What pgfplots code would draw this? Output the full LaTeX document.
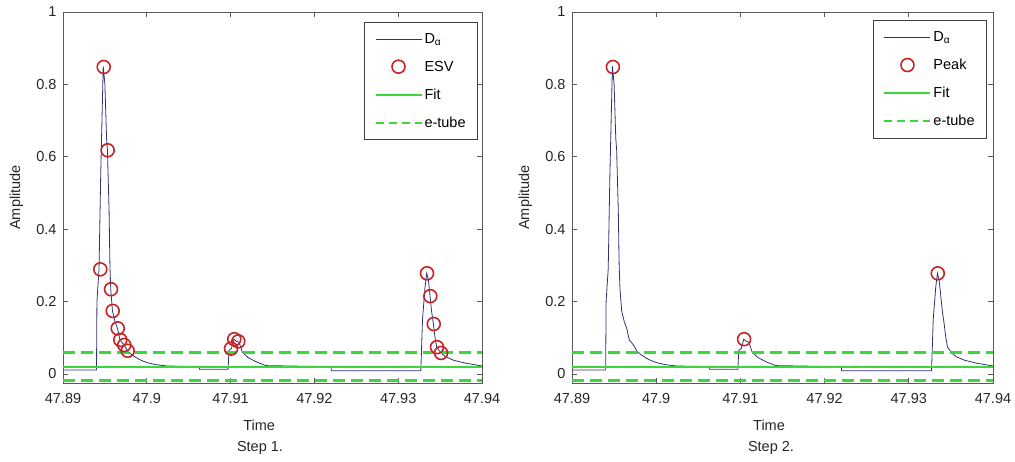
\documentclass[border=0pt]{standalone}
\usepackage{fontspec}
\setmainfont{Liberation Sans}
\usepackage{pgfplots}
\usepackage{pgfplotstable}
\pgfplotsset{compat=1.18}
\definecolor{dcol}{RGB}{50,50,115}
\definecolor{rcol}{RGB}{200,35,35}
\definecolor{gcol}{RGB}{60,215,60}

\pgfplotstableread{
t v
47.8900 0.011
47.8940 0.011
47.89405 0.20
47.8943 0.29
47.8945 0.55
47.8947 0.75
47.8948 0.85
47.8950 0.80
47.8952 0.65
47.8953 0.62
47.8955 0.45
47.8956 0.30
47.8957 0.234
47.8959 0.174
47.8962 0.145
47.8965 0.126
47.8968 0.094
47.8973 0.080
47.8977 0.064
47.8981 0.055
47.8986 0.047
47.8991 0.040
47.8996 0.035
47.9001 0.031
47.9010 0.026
47.9020 0.023
47.9025 0.022
47.9063 0.020
47.9063 0.013
47.9097 0.013
47.9098 0.065
47.9101 0.070
47.9104 0.096
47.9107 0.090
47.9110 0.088
47.9114 0.060
47.9121 0.045
47.9131 0.033
47.9142 0.023
47.9220 0.020
47.9220 0.009
47.9327 0.009
47.9329 0.15
47.9332 0.24
47.9334 0.278
47.9336 0.26
47.9338 0.215
47.9340 0.17
47.9342 0.138
47.9344 0.10
47.9346 0.074
47.9351 0.058
47.9356 0.048
47.9366 0.038
47.9380 0.030
47.9400 0.022
}\Ddata

\pgfplotstableread{
t v
47.89445 0.289
47.89486 0.848
47.89533 0.618
47.89573 0.234
47.89593 0.174
47.89653 0.126
47.89684 0.094
47.89731 0.080
47.89772 0.064
47.91005 0.070
47.91044 0.096
47.91092 0.090
47.93344 0.278
47.93383 0.215
47.93424 0.138
47.93463 0.074
47.93511 0.058
}\ESVdata

\pgfplotstableread{
t v
47.89486 0.848
47.91044 0.096
47.93344 0.278
}\Peakdata

\pgfplotsset{
  mystyle/.style={
    scale only axis, height=371pt,
    xmin=47.89, xmax=47.94, ymin=-0.025, ymax=1,
    xtick={47.89,47.9,47.91,47.92,47.93,47.94},
    xticklabels={47.89,47.9,47.91,47.92,47.93,47.94},
    ytick={0,0.2,0.4,0.6,0.8,1},
    yticklabels={0,0.2,0.4,0.6,0.8,1},
    tick align=inside, major tick length=5pt,
    axis line style={black!65, line width=0.8pt},
    tick style={black!65, line width=0.8pt},
    tick label style={font=\fontsize{14.5}{17}\selectfont, text=black!85},
    xticklabel style={yshift=-7pt},
    yticklabel style={xshift=-3pt},
    label style={font=\fontsize{14.5}{17}\selectfont, text=black!85},
    xlabel={Time}, ylabel={Amplitude},
    xlabel style={at={(axis description cs:0.468,-0.113)}, anchor=center},
    ylabel style={at={(axis description cs:-0.111,0.5)}, anchor=center},
    legend style={draw=black!75, fill=white, line width=0.8pt,
      font=\fontsize{14.5}{17}\selectfont, row sep=12pt,
      inner xsep=10pt, inner ysep=9pt, cells={anchor=west}},
    legend cell align=left,
    legend image code/.code={\draw[mark repeat=2,mark phase=2,#1] plot coordinates {(0pt,0pt) (23pt,0pt) (46pt,0pt)};},
  },
  dline/.style={draw=dcol, line width=0.8pt, no marks},
  circ/.style={only marks, mark=o, mark size=6.5pt, mark options={draw=rcol, line width=1.6pt}},
  fitl/.style={draw=gcol, line width=2pt, no marks},
  tube/.style={draw=gcol, line width=3.2pt, dash pattern=on 12pt off 6pt, no marks},
}

\begin{document}
\begin{tikzpicture}[x=1pt,y=1pt]
\path[use as bounding box] (0,0) rectangle (1015,462);

\begin{axis}[mystyle, width=419pt, at={(63pt,79pt)}, anchor=south west,
  legend style={at={(axis description cs:0.9905,0.973)}, anchor=north east}]
\addplot[dline] table[x=t,y=v] {\Ddata};
\addlegendentry{D\textsubscript{α}}
\addplot[circ] table[x=t,y=v] {\ESVdata};
\addlegendentry{ESV}
\addplot[fitl] coordinates {(47.89,0.018) (47.94,0.018)};
\addlegendentry{Fit}
\addplot[tube, legend image post style={line width=2pt, dash pattern=on 8pt off 5pt}] coordinates {(47.89,0.060) (47.94,0.060)};
\addlegendentry{e-tube}
\addplot[tube, forget plot] coordinates {(47.89,-0.018) (47.94,-0.018)};
\end{axis}

\begin{axis}[mystyle, width=421pt, at={(572pt,79pt)}, anchor=south west,
  legend style={at={(axis description cs:0.9857,0.978)}, anchor=north east}]
\addplot[dline] table[x=t,y=v] {\Ddata};
\addlegendentry{D\textsubscript{α}}
\addplot[circ] table[x=t,y=v] {\Peakdata};
\addlegendentry{Peak}
\addplot[fitl] coordinates {(47.89,0.018) (47.94,0.018)};
\addlegendentry{Fit}
\addplot[tube, legend image post style={line width=2pt, dash pattern=on 8pt off 5pt}] coordinates {(47.89,0.060) (47.94,0.060)};
\addlegendentry{e-tube}
\addplot[tube, forget plot] coordinates {(47.89,-0.018) (47.94,-0.018)};
\end{axis}

\node[font=\fontsize{14.5}{17}\selectfont, text=black!85] at (260,14) {Step 1.};
\node[font=\fontsize{14.5}{17}\selectfont, text=black!85] at (771,14) {Step 2.};
\end{tikzpicture}
\end{document}
